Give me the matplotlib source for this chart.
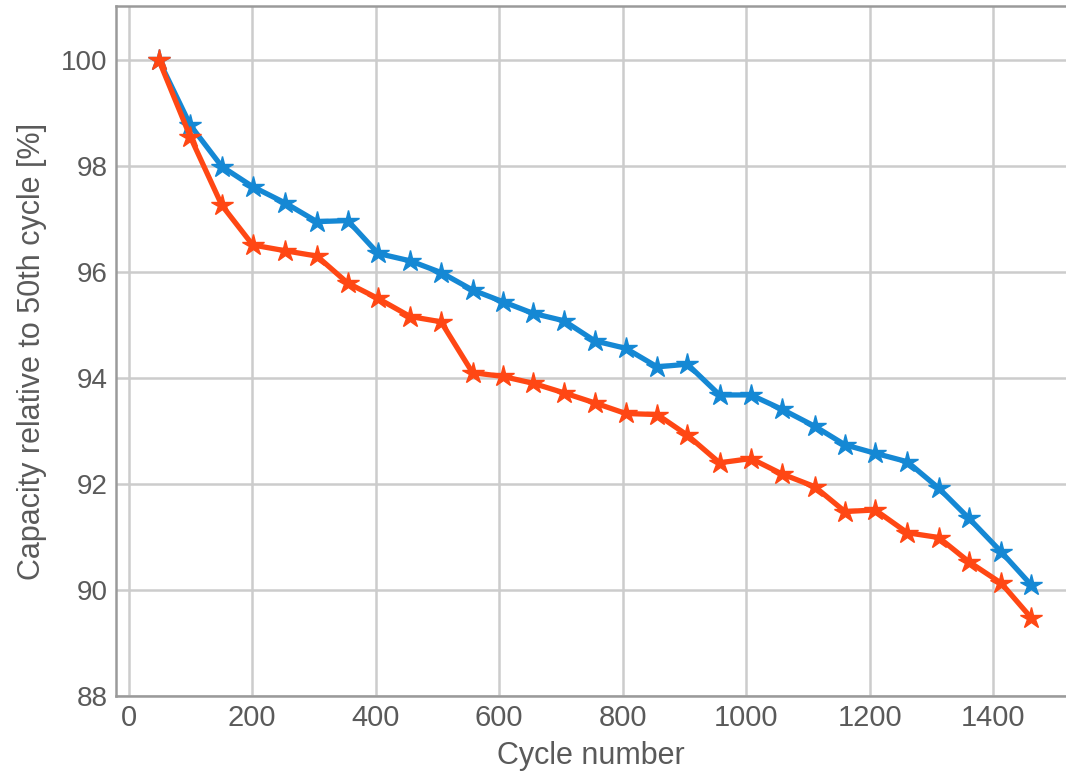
import matplotlib
matplotlib.use("Agg")
import matplotlib.pyplot as plt

# cycle numbers
cycles = [49, 100, 151, 201, 254, 305, 355, 404, 456, 506, 557, 606, 655, 705, 755,
          805, 856, 905, 957, 1008, 1058, 1111, 1160, 1209, 1261, 1312, 1361, 1413, 1462]

# blue series
capacity_blue = [100.0, 98.77, 97.99, 97.61, 97.30, 96.95, 96.97, 96.35, 96.21, 95.99,
                 95.66, 95.44, 95.22, 95.08, 94.70, 94.56, 94.21, 94.26, 93.68, 93.68,
                 93.41, 93.09, 92.74, 92.58, 92.42, 91.92, 91.35, 90.72, 90.09]

# red series
capacity_red = [100.0, 98.55, 97.26, 96.51, 96.40, 96.30, 95.79, 95.50, 95.16, 95.06,
                94.10, 94.03, 93.90, 93.72, 93.53, 93.33, 93.31, 92.92, 92.40, 92.48,
                92.19, 91.95, 91.48, 91.51, 91.08, 90.99, 90.53, 90.13, 89.47]

xticks = [0, 200, 400, 600, 800, 1000, 1200, 1400]
yticks = [88, 90, 92, 94, 96, 98, 100]

plt.rcParams['font.family'] = ['Liberation Sans', 'DejaVu Sans']

fig = plt.figure(figsize=(10.66, 7.78), dpi=100)
ax = fig.add_axes([0.109, 0.1054, 0.891, 0.887])

ax.plot(cycles, capacity_blue, color='#1588d4', lw=3.8, marker='*', ms=16,
        markeredgewidth=1, zorder=3)
ax.plot(cycles, capacity_red, color='#ff4714', lw=3.8, marker='*', ms=16,
        markeredgewidth=1, zorder=4)

ax.set_xlim(-20, 1518)
ax.set_ylim(88, 101.02)
ax.set_xticks(xticks)
ax.set_yticks(yticks)

ax.grid(True, color='#cccccc', lw=1.8)
ax.set_axisbelow(True)
for side in ['left', 'bottom', 'top']:
    ax.spines[side].set_color('#9a9a9a')
    ax.spines[side].set_linewidth(1.8)
ax.spines['right'].set_visible(False)

ax.tick_params(axis='y', length=0, labelsize=20, labelcolor='#5a5a5a', pad=6)
ax.tick_params(axis='x', length=0, labelsize=21, labelcolor='#5a5a5a', pad=6)
ax.set_xlabel('Cycle number', fontsize=22, color='#5a5a5a', labelpad=6)
ax.set_ylabel('Capacity relative to 50th cycle [%]', fontsize=22, color='#5a5a5a',
              labelpad=10)

fig.savefig('out.png', dpi=100)
